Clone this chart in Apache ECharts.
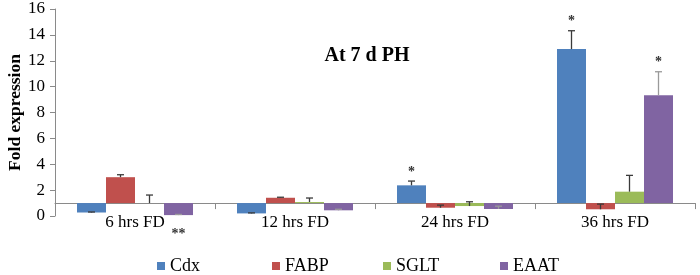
<!DOCTYPE html>
<html>
<head>
<meta charset="utf-8">
<script src="https://cdn.jsdelivr.net/npm/echarts@6/dist/echarts.min.js"></script>
<style>
  html, body { margin: 0; padding: 0; background: #fff; }
  #chart { width: 700px; height: 275px; }
</style>
</head>
<body>
<div id="chart"></div>
<script>
// categories and series (fold expression, baseline = 1)
const categories = ['6 hrs FD', '12 hrs FD', '24 hrs FD', '36 hrs FD'];
const seriesNames = ['Cdx', 'FABP', 'SGLT', 'EAAT'];
const cdx = [0.27, 0.2, 2.37, 12.9];
const fabp = [3.0, 1.41, 0.64, 0.52];
const sglt = [1.0, 1.08, 0.77, 1.88];
const eaat = [0.07, 0.44, 0.54, 9.33];
const cdxErr = [0.04, 0.04, 0.33, 1.42];
const fabpErr = [0.19, 0.04, 0.2, 0.4];
const sgltErr = [0.62, 0.31, 0.33, 1.26];
const eaatErr = [0.05, 0.08, 0.22, 1.82];
// significance marks per category, per series
const stars = [
  ['', '', '', '**'],
  ['', '', '', ''],
  ['*', '', '', ''],
  ['*', '', '', '*']
];
const yTicks = [0, 2, 4, 6, 8, 10, 12, 14, 16];
const baseline = 1;

const values = [cdx, fabp, sglt, eaat];
const errors = [cdxErr, fabpErr, sgltErr, eaatErr];
const colors = ['#4F81BD', '#C0504D', '#9BBB59', '#8064A2'];
const errColors = ['#3a3a3a', '#3a3a3a', '#3a3a3a', '#9a9a9a'];
const legendLeft = [152, 267, 378, 495];
const serif = '"Liberation Serif", "DejaVu Serif", serif';
const gapRatio = 0.275;

const chart = echarts.init(document.getElementById('chart'));

const series = [];
values.forEach((vals, i) => {
  // invisible part from 0 up to where the visible bar starts
  series.push({
    name: seriesNames[i] + '_base',
    type: 'bar',
    stack: 's' + i,
    data: vals.map((v) => Math.min(v, baseline)),
    itemStyle: { color: 'transparent' },
    barGap: '0%',
    barCategoryGap: gapRatio * 100 + '%',
    silent: true
  });
  series.push({
    name: seriesNames[i],
    type: 'bar',
    stack: 's' + i,
    data: vals.map((v) => Math.abs(v - baseline)),
    itemStyle: { color: colors[i] },
    barGap: '0%',
    barCategoryGap: gapRatio * 100 + '%'
  });
});

// error bars + asterisks
values.forEach((vals, i) => {
  series.push({
    type: 'custom',
    z: 5,
    data: vals.map((v, c) => [c, v, errors[i][c]]),
    renderItem: (params, api) => {
      const c = api.value(0);
      const v = api.value(1);
      const e = api.value(2);
      const band = api.size([1, 0])[0];
      const bw = band * (1 - gapRatio) / 4;
      const p = api.coord([c, v]);
      const x = p[0] + (i - 1.5) * bw;
      const y1 = p[1];
      const y2 = api.coord([c, v + e])[1];
      const cap = 3.5;
      const st = { stroke: errColors[i], lineWidth: 1.3 };
      const children = [
        { type: 'line', shape: { x1: x, y1: y1, x2: x, y2: y2 }, style: st },
        { type: 'line', shape: { x1: x - cap, y1: y2, x2: x + cap, y2: y2 }, style: st }
      ];
      const s = stars[c][i];
      if (s) {
        const below = v < baseline;
        children.push({
          type: 'text',
          style: {
            text: s,
            x: x,
            y: below ? api.coord([c, 0])[1] + 18 : y2 - 9,
            align: 'center',
            verticalAlign: 'middle',
            font: 'bold 14px ' + serif,
            fill: '#333'
          }
        });
      }
      return { type: 'group', children: children };
    }
  });
});

// one legend per item so the spacing matches the original
const legends = seriesNames.map((name, i) => ({
  data: [name],
  left: legendLeft[i],
  top: 252,
  itemWidth: 8,
  itemHeight: 8,
  itemGap: 4,
  icon: 'rect',
  textStyle: { fontFamily: serif, fontSize: 18, color: '#000' }
}));

const option = {
  animation: false,
  backgroundColor: '#fff',
  title: {
    text: 'At 7 d PH',
    left: 362,
    top: 41,
    textAlign: 'center',
    textStyle: { fontFamily: serif, fontSize: 20, fontWeight: 'bold', color: '#000' }
  },
  legend: legends,
  grid: { left: 55, right: 5, top: 9, bottom: 59, outerBoundsMode: 'none', containLabel: false },
  xAxis: {
    type: 'category',
    data: categories,
    offset: -12.9,
    axisLine: { show: true, lineStyle: { color: '#8a8a8a', width: 1 } },
    axisTick: { show: true, length: 6, lineStyle: { color: '#8a8a8a' } },
    axisLabel: { fontFamily: serif, fontSize: 17, color: '#000', margin: 11 }
  },
  yAxis: {
    type: 'value',
    min: yTicks[0],
    max: yTicks[yTicks.length - 1],
    interval: 2,
    name: 'Fold expression',
    nameLocation: 'middle',
    nameGap: 31,
    nameMoveOverlap: false,
    nameTextStyle: { fontFamily: serif, fontSize: 17.5, fontWeight: 'bold', color: '#000' },
    axisLine: { show: true, lineStyle: { color: '#8a8a8a', width: 1 } },
    axisTick: { show: true, length: 5, lineStyle: { color: '#8a8a8a' } },
    axisLabel: { fontFamily: serif, fontSize: 17, color: '#000', margin: 10 },
    splitLine: { show: false }
  },
  series: series
};

chart.setOption(option);
</script>
</body>
</html>
